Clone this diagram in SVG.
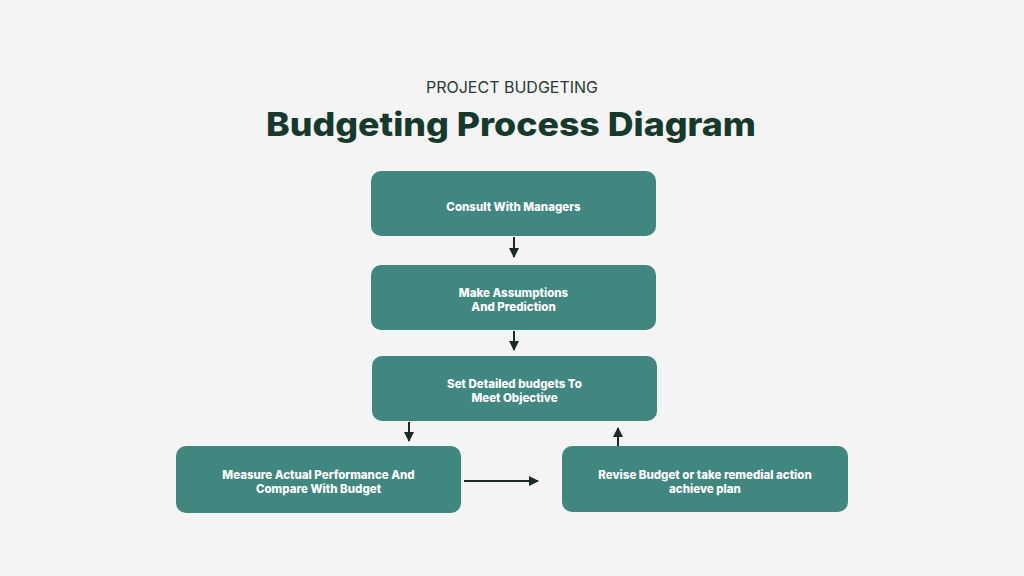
<svg xmlns="http://www.w3.org/2000/svg" width="1024" height="576" viewBox="0 0 1024 576">
<defs>
<style>
.box{fill:#3f877f;}
.lbl{font-family:Inter,"Noto Sans",sans-serif;font-weight:800;font-size:11.5px;fill:#ffffff;text-anchor:middle;}
.con{stroke:#1b2a25;stroke-width:2;fill:none;}
</style>
<marker id="ah" viewBox="0 0 10 10" refX="9" refY="5" markerWidth="5" markerHeight="5" orient="auto-start-reverse" markerUnits="strokeWidth">
<path d="M0,0 L10,5 L0,10 z" fill="#1b2a25"/>
</marker>
</defs>
<rect width="1024" height="576" fill="#f4f4f4"/>
<text x="512" y="93" font-family="Inter,'Noto Sans',sans-serif" font-size="16" fill="#2a3a34" text-anchor="middle">PROJECT BUDGETING</text>
<text x="511" y="136" font-family="Inter,'Noto Sans',sans-serif" font-weight="800" font-size="33" fill="#153a2c" text-anchor="middle" textLength="490" lengthAdjust="spacingAndGlyphs">Budgeting Process Diagram</text>
<g id="connectors">
<line class="con" x1="514" y1="237" x2="514" y2="257" marker-end="url(#ah)"/>
<line class="con" x1="514" y1="331" x2="514" y2="350" marker-end="url(#ah)"/>
<line class="con" x1="409" y1="422" x2="409" y2="441" marker-end="url(#ah)"/>
<line class="con" x1="618" y1="446" x2="618" y2="428" marker-end="url(#ah)"/>
<line class="con" x1="464" y1="481" x2="538" y2="481" marker-end="url(#ah)"/>
</g>
<g id="n1">
<rect class="box" x="371" y="171" width="285" height="65" rx="10"/>
<text class="lbl" x="513.5" y="211">Consult With Managers</text>
</g>
<g id="n2">
<rect class="box" x="371" y="265" width="285" height="65" rx="10"/>
<text class="lbl" x="513.5" y="297">Make Assumptions</text>
<text class="lbl" x="513.5" y="311">And Prediction</text>
</g>
<g id="n3">
<rect class="box" x="372" y="356" width="285" height="65" rx="10"/>
<text class="lbl" x="514.5" y="388">Set Detailed budgets To</text>
<text class="lbl" x="514.5" y="402">Meet Objective</text>
</g>
<g id="n4">
<rect class="box" x="176" y="446" width="285" height="67" rx="10"/>
<text class="lbl" x="318.5" y="479">Measure Actual Performance And</text>
<text class="lbl" x="318.5" y="493">Compare With Budget</text>
</g>
<g id="n5">
<rect class="box" x="562" y="446" width="286" height="66" rx="10"/>
<text class="lbl" x="705" y="479">Revise Budget or take remedial action</text>
<text class="lbl" x="705" y="493">achieve plan</text>
</g>
</svg>
